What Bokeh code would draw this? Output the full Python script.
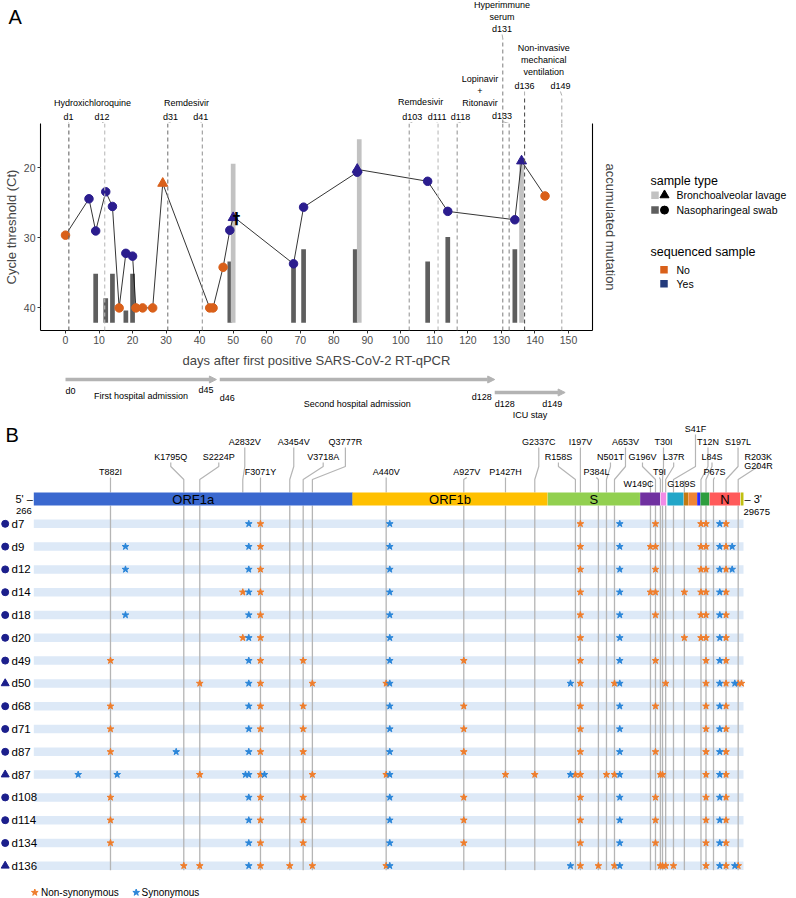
import numpy as np
from bokeh.plotting import figure
from bokeh.models import (Range1d, LinearAxis, Span, Arrow, NormalHead,
                          ColumnDataSource, FixedTicker)
from bokeh.layouts import column, row
from bokeh.embed import file_html
from bokeh.resources import INLINE
from bokeh.core.properties import value

FONT = "Liberation Sans"

# ======================= Panel A data =======================
sample_day = [0, 7, 9, 12, 14, 16, 18, 20, 21, 23, 26, 29, 43, 44, 47, 49, 50,
              68, 71, 87, 87, 108, 114, 134, 136, 143]
sample_ct = [29.6, 24.4, 29.0, 23.4, 25.5, 40.0, 32.2, 32.6, 40.0, 40.0, 40.0, 22.2,
             40.0, 40.0, 34.2, 28.9, 27.1, 33.7, 25.6, 20.6, 20.2, 21.9, 26.2,
             27.4, 19.0, 24.0]
sample_type = ["NP", "NP", "NP", "NP", "NP", "NP", "NP", "NP", "NP", "NP", "NP", "BAL",
               "NP", "NP", "NP", "NP", "BAL", "NP", "NP", "NP", "BAL", "NP", "NP",
               "NP", "BAL", "NP"]
sequenced = ["No", "Yes", "Yes", "Yes", "Yes", "No", "Yes", "Yes", "No", "No", "No", "No",
             "No", "No", "No", "Yes", "Yes", "Yes", "Yes", "Yes", "Yes", "Yes", "Yes",
             "Yes", "Yes", "No"]
dagger_day = [51]
dagger_ct = [27.3]

mut_day = [9, 12, 14, 18, 20, 49, 50, 68, 71, 87, 87, 108, 114, 134, 136]
mut_count = [4, 2, 4, 1, 4, 5, 13, 5, 6, 6, 15, 5, 7, 6, 13]
mut_type = ["NP", "NP", "NP", "NP", "NP", "NP", "BAL", "NP", "NP", "NP", "BAL",
            "NP", "NP", "NP", "BAL"]

event_day = [1, 11.7, 30.5, 40.8, 102.5, 111.1, 116.8, 130.4, 132.3, 136.9, 148.0]
event_label = ["d1", "d12", "d31", "d41", "d103", "d111", "d118", "d131", "d133",
               "d136", "d149"]
treatments = ["Hydroxichloroquine", "Remdesivir", "Remdesivir", "Lopinavir\n+\nRitonavir",
              "Hyperimmune\nserum", "Non-invasive\nmechanical\nventilation"]

x_ticks = list(range(0, 151, 10))
ct_ticks = [20, 30, 40]
acc_ticks = [0, 5, 10, 15]

phase_name = ["First hospital admission", "Second hospital admission", "ICU stay"]
phase_start = [0, 46, 128]
phase_end = [45, 128, 149]

# ======================= Panel B data =======================
genes = ["ORF1a", "ORF1b", "S", "ORF3a", "E", "M", "ORF6", "ORF7a", "ORF7b", "ORF8",
         "N", "ORF10"]
gene_start = [266, 13468, 21563, 25393, 26245, 26523, 27202, 27394, 27756, 27894,
              28274, 29558]
gene_end = [13483, 21555, 25384, 26220, 26472, 27191, 27387, 27759, 27887, 28259,
            29533, 29674]
genome_start = 266
genome_end = 29675

mut_names = ["T882I", "K1795Q", "S2224P", "A2832V", "F3071Y", "A3454V", "V3718A",
             "Q3777R", "A440V", "A927V", "P1427H", "G2337C", "R158S", "I197V",
             "P384L", "N501T", "A653V", "W149C", "G196V", "T9I", "T30I", "L37R",
             "S41F", "G189S", "T12N", "L84S", "P67S", "S197L", "R203K", "G204R"]
mut_pos = [3444, 6481, 7144, 8926, 9659, 10873, 11429, 11810, 14868, 18084, 19812,
           21026, 22710, 22916, 23662, 23997, 24329, 25820, 26028, 26231, 26318,
           26450, 26774, 27225, 27913, 28121, 28432, 28952, 29455, 29592]

samples_b = ["d7", "d9", "d12", "d14", "d18", "d20", "d49", "d50", "d68", "d71", "d87",
             "d87", "d108", "d114", "d134", "d136"]
samples_b_type = ["NP", "NP", "NP", "NP", "NP", "NP", "NP", "BAL", "NP", "NP", "NP",
                  "BAL", "NP", "NP", "NP", "BAL"]
nonsyn_rows = [
    ["F3071Y", "I197V", "G196V", "T12N", "L84S", "S197L"],
    ["F3071Y", "I197V", "W149C", "G196V", "T12N", "L84S", "S197L"],
    ["F3071Y", "I197V", "G196V", "T12N", "L84S", "S197L"],
    ["A2832V", "F3071Y", "I197V", "W149C", "G196V", "G189S", "T12N", "L84S", "S197L"],
    ["F3071Y", "I197V", "G196V", "T12N", "L84S", "S197L"],
    ["A2832V", "F3071Y", "I197V", "G189S", "T12N", "L84S", "S197L"],
    ["T882I", "F3071Y", "V3718A", "A927V", "I197V", "G196V", "L84S", "S197L"],
    ["S2224P", "F3071Y", "Q3777R", "A440V", "I197V", "A653V", "L37R", "L84S", "S197L",
     "R203K", "G204R"],
    ["T882I", "F3071Y", "V3718A", "A927V", "I197V", "G196V", "L84S", "S197L"],
    ["T882I", "F3071Y", "V3718A", "A927V", "I197V", "L84S", "S197L"],
    ["T882I", "F3071Y", "V3718A", "A927V", "I197V", "G196V", "L84S", "S197L"],
    ["S2224P", "F3071Y", "Q3777R", "A440V", "P1427H", "G2337C", "R158S", "I197V",
     "N501T", "A653V", "T9I", "T30I", "L84S", "S197L"],
    ["T882I", "F3071Y", "V3718A", "A927V", "I197V", "G196V", "L84S", "S197L"],
    ["T882I", "F3071Y", "V3718A", "A927V", "I197V", "G196V", "L84S", "S197L"],
    ["T882I", "F3071Y", "V3718A", "A927V", "I197V", "G196V", "L84S", "S197L"],
    ["K1795Q", "S2224P", "F3071Y", "A3454V", "Q3777R", "A440V", "I197V", "P384L",
     "A653V", "T9I", "T30I", "L37R", "S41F", "L84S", "S197L", "R203K"],
]
syn_rows = [
    [9174, 15017, 24548, 28692],
    [4065, 9174, 15017, 24548, 28692, 29206],
    [4065, 9174, 15017, 24548, 28692, 29206],
    [9174, 15017, 24548, 28692],
    [4065, 9174, 15017, 24548, 28692],
    [9174, 15017, 24548, 28692],
    [9174, 15017, 24548, 28692],
    [9174, 15017, 22505, 24548, 28692, 29314],
    [9174, 15017, 24548, 28692],
    [9174, 15017, 24548, 28692],
    [6166, 9174, 15017, 24548, 28692],
    [2105, 3721, 9038, 9174, 9825, 15017, 22505, 24548, 28692],
    [9174, 15017, 24548, 28692],
    [9174, 15017, 24548, 28692],
    [9174, 15017, 24548, 28692],
    [9174, 15017, 22505, 24548, 28692, 29314],
]

# ======================= styles / layout =======================
COL_YES = "#2b1d8e"
COL_NO = "#d9601a"
BAR_COL = {"NP": "#5e5e5e", "BAL": "#c2c2c2"}
MARK = {"NP": "circle", "BAL": "triangle"}
event_color = ["#666666", "#bbbbbb", "#777777", "#999999", "#999999", "#bbbbbb",
               "#999999", "#888888", "#888888", "#555555", "#aaaaaa"]
event_label_x = [0.9, 10.9, 31.3, 40.3, 103.4, 110.8, 117.8, 130.2, 130.2, 136.9, 147.6]
event_label_y = [116, 116, 116, 116, 116, 116, 116, 28, 115, 85, 85]
event_line_top = [123, 123, 123, 123, 123, 123, 123, 38, 123, 95, 95]
treat_x = [8.05, 36.1, 105.9, 123.6, 130.2, 142.6]
treat_y = [102.5, 102.5, 101.5, 90.7, 10, 59.5]
gene_colors = ["#3a68cf", "#ffc000", "#92d050", "#7030a0", "#f28be6", "#22a6c8",
               "#c27a12", "#f08535", "#2b2bff", "#2e9e3e", "#ff5a5a", "#c0c010"]
label_dx = [0, -13, 19, 2, 0, 4, 20, 33, 0, 3, 0, 4, -17, 0, -2, 4, 11, -12, -13, -1,
            1, 8, 22, -3, 7, 6, 1, 12, 20, 17]
label_y = [471, 456, 456, 441, 471, 441, 456, 441, 471, 471, 471, 441, 456, 441, 471,
           456, 441, 483, 456, 471, 441, 456, 428, 483, 441, 456, 471, 441, 456, 465]
no_line = {"A2832V", "G204R"}
STAR_ORANGE = "#ef7d2b"
STAR_BLUE = "#2b86d9"

W = 796
DAY_PX = 503.0 / 150.0          # pixels per day
DAY0_PAGE = 65.0                # page x of day 0
TL_TOP, TL_BOT = 370, 423       # timeline strip (page y)


def page_to_day(px):
    return (px - DAY0_PAGE) / DAY_PX


def blank(w, h, xr, yr, **kw):
    p = figure(width=w, height=h, x_range=xr, y_range=yr, output_backend="svg",
               toolbar_location=None, x_axis_location=None, y_axis_location=None,
               min_border=0, **kw)
    p.outline_line_color = None
    p.border_fill_color = None
    p.background_fill_color = None
    for g in p.grid:
        g.visible = False
    return p


def txt(p, x, y, t, size="9px", align="center", color="#000000", baseline="middle",
        style="normal", x_offset=0):
    p.text(x=x, y=y, text=t, text_font=value(FONT), text_font_size=size,
           text_align=align, text_baseline=baseline, text_color=color,
           text_font_style=style, x_offset=x_offset)


# ======================= top annotations (panel A) =======================
top = blank(W, 123, Range1d(page_to_day(0), page_to_day(W)), Range1d(123, 0))
txt(top, [page_to_day(8)], [16], ["A"], size="20px", align="left")
for d, tp, c, lx, ly in zip(event_day, event_line_top, event_color, event_label_x, event_label_y):
    if tp < 123:
        top.segment(x0=[d], y0=[123], x1=[d], y1=[tp], line_color=c, line_dash="4 3",
                    line_width=1.1)
    top.segment(x0=[d], y0=[min(tp, 123)], x1=[lx], y1=[ly + 6], line_color="#999999",
                line_width=0.8)
txt(top, event_label_x, event_label_y, event_label, size="9px")
txt(top, treat_x, treat_y, treatments, size="9px")

# ======================= main plot A =======================
pa = figure(width=633, height=247, x_range=Range1d(page_to_day(40), page_to_day(592)),
            y_range=Range1d(43.23, 13.64), output_backend="svg", toolbar_location=None,
            min_border_left=40, min_border_right=41, min_border_top=0,
            min_border_bottom=39)
pa.outline_line_color = None
pa.extra_y_ranges = {"acc": Range1d(-0.63, 16.28)}
pa.grid.visible = False
ra = LinearAxis(y_range_name="acc", axis_label="accumulated mutation",
                ticker=FixedTicker(ticks=acc_ticks))
pa.add_layout(ra, "right")
pa.xaxis.ticker = FixedTicker(ticks=x_ticks)
pa.yaxis.ticker = FixedTicker(ticks=ct_ticks)
pa.xaxis.axis_label = "days after first positive SARS-CoV-2 RT-qPCR"
pa.yaxis[0].axis_label = "Cycle threshold (Ct)"
for ax in pa.xaxis + pa.yaxis:
    ax.axis_line_color = "black"
    ax.axis_line_width = 1.1
    ax.major_tick_line_color = "#333333"
    ax.major_tick_out = 3
    ax.major_tick_in = 0
    ax.minor_tick_line_color = None
    ax.major_label_text_font = FONT
    ax.major_label_text_font_size = "10.5px"
    ax.major_label_text_color = "#4d4d4d"
    ax.major_label_standoff = 2
    ax.axis_label_text_font = FONT
    ax.axis_label_text_font_size = "13px"
    ax.axis_label_text_font_style = "normal"
    ax.axis_label_standoff = 2
pa.xaxis.axis_label_standoff = 6
ra.axis_label_standoff = 10
ra.major_label_standoff = 4

for d, c in zip(event_day, event_color):
    pa.add_layout(Span(location=d, dimension="height", line_color=c, line_dash="4 3",
                       line_width=1.1))

# bars (dodged when two sample types share a day)
bar_x = []
for d, t in zip(mut_day, mut_type):
    if mut_day.count(d) > 1:
        bar_x.append(d - 0.6 if t == "NP" else d + 0.6)
    else:
        bar_x.append(d)
bsrc = ColumnDataSource(dict(x=bar_x, top=mut_count,
                             color=[BAR_COL[t] for t in mut_type]))
pa.vbar(x="x", top="top", bottom=0, width=1.4, fill_color="color", line_color=None,
        y_range_name="acc", source=bsrc)

# connecting line
line_pts = sorted(list(zip(sample_day, sample_ct)) + list(zip(dagger_day, dagger_ct)),
                  key=lambda v: v[0])
pa.line([v[0] for v in line_pts], [v[1] for v in line_pts], line_color="black",
        line_width=0.8)

for t, sz in (("NP", 8.5), ("BAL", 10)):
    idx = [i for i, s in enumerate(sample_type) if s == t]
    src = ColumnDataSource(dict(
        x=[sample_day[i] for i in idx], y=[sample_ct[i] for i in idx],
        c=[COL_YES if sequenced[i] == "Yes" else COL_NO for i in idx]))
    pa.scatter("x", "y", source=src, marker=MARK[t], size=sz, fill_color="c",
               line_color="c")
pa.text(x=dagger_day, y=dagger_ct, text=["†"], text_font=value("DejaVu Sans"),
        text_font_size="15px", text_align="center", text_baseline="middle",
        text_font_style="bold")

# ======================= legend A =======================
leg = blank(W - 633, 247, Range1d(633, W), Range1d(331, 123),
            min_border_top=0, min_border_bottom=39)
txt(leg, [650], [181], ["sample type"], size="12.5px", align="left")
st_items = ["Bronchoalveolar lavage", "Nasopharingeal swab"]
st_keys = ["BAL", "NP"]
st_y = [195 + 15 * i for i in range(len(st_items))]
leg.scatter([654.5] * 2, st_y, marker="square", size=7.5,
            fill_color=[BAR_COL[k] for k in st_keys], line_color=None)
for k, yy in zip(st_keys, st_y):
    leg.scatter([664], [yy], marker=MARK[k], size=8 if k == "NP" else 9,
                fill_color="black", line_color="black")
txt(leg, [676] * 2, st_y, st_items, size="10.5px", align="left")
txt(leg, [650], [252], ["sequenced sample"], size="12.5px", align="left")
sq_items = ["No", "Yes"]
sq_y = [270 + 14 * i for i in range(len(sq_items))]
leg.scatter([663.5] * 2, sq_y, marker="square", size=7.5,
            fill_color=[COL_NO, "#243b7c"], line_color=None)
txt(leg, [676] * 2, sq_y, sq_items, size="10.5px", align="left")

# ======================= timeline =======================
tl = blank(W, TL_BOT - TL_TOP, Range1d(page_to_day(0), page_to_day(W)),
           Range1d(TL_BOT, TL_TOP))
arrow_y = [379, 379, 392]
ac = "#b3b3b3"
asrc = ColumnDataSource(dict(x0=phase_start, x1=phase_end, y=arrow_y))
tl.add_layout(Arrow(end=NormalHead(size=7, fill_color=ac, line_color=ac), source=asrc,
                    x_start="x0", y_start="y", x_end="x1", y_end="y", line_color=ac,
                    line_width=3.5))
start_y = [390, 397, 403]
end_y = [389, 396, 403]
name_y = [395, 403, 414]
txt(tl, phase_start, start_y, ["d%d" % s for s in phase_start], size="9px", align="left")
txt(tl, phase_end, end_y, ["d%d" % e for e in phase_end], size="9px", align="right",
    x_offset=-3)
txt(tl, [(s + e) / 2 for s, e in zip(phase_start, phase_end)], name_y, phase_name,
    size="9px")

# ======================= panel B =======================
NT_PX = 0.024132
XB0 = genome_start - 33.3 / NT_PX


def page_to_nt(px):
    return XB0 + px / NT_PX


pb = blank(W, 898 - TL_BOT, Range1d(XB0, XB0 + W / NT_PX), Range1d(898, TL_BOT))
txt(pb, [page_to_nt(5)], [434], ["B"], size="20px", align="left")

BAR_TOP, BAR_BOT = 492, 505
ROW_Y0, ROW_STEP = 523.3, 22.8
row_y = [ROW_Y0 + i * ROW_STEP for i in range(len(samples_b))]
pos_of = dict(zip(mut_names, mut_pos))

# row bands
pb.hbar(y=row_y, left=genome_start, right=genome_end, height=8.5,
        fill_color="#dde9f7", line_color=None)

# vertical mutation lines and label leaders
line_x = [p for n, p in zip(mut_names, mut_pos) if n not in no_line]
pb.segment(x0=line_x, y0=BAR_BOT, x1=line_x, y1=row_y[-1] + 4.5, line_color="#b5b5b5",
           line_width=1.3)
lead_xs, lead_ys = [], []
for n, p, dx, ly in zip(mut_names, mut_pos, label_dx, label_y):
    if n == "G204R":
        continue
    lx = p + dx / NT_PX
    lb = ly + 6
    if lb > 480:
        lead_xs.append([p, p])
        lead_ys.append([480, BAR_TOP])
    else:
        lead_xs.append([lx, lx, p, p])
        lead_ys.append([lb, max(lb, 466), 479, BAR_TOP])
pb.multi_line(lead_xs, lead_ys, line_color="#b5b5b5", line_width=1.2)
txt(pb, mut_pos, label_y, mut_names, size="9px", x_offset=label_dx)

# genome
pb.hbar(y=(BAR_TOP + BAR_BOT) / 2, left=gene_start, right=gene_end,
        height=BAR_BOT - BAR_TOP, fill_color=gene_colors, line_color=None)
big = [i for i in range(len(genes)) if gene_end[i] - gene_start[i] > 1000]
txt(pb, [(gene_start[i] + gene_end[i]) / 2 for i in big], [498.5] * len(big),
    [genes[i] for i in big], size="13px")
txt(pb, [genome_start], [498], ["5' \u2013"], size="11px", align="right", x_offset=-1)
txt(pb, [genome_start], [510], [str(genome_start)], size="9.5px", align="right",
    x_offset=-2)
txt(pb, [genome_end], [498], ["\u2013 3'"], size="11px", align="left", x_offset=1)
txt(pb, [genome_end], [511], [str(genome_end)], size="9.5px", align="left")

# row markers + labels
for t, sz in (("NP", 7), ("BAL", 8)):
    ys = [y for y, s in zip(row_y, samples_b_type) if s == t]
    pb.scatter([page_to_nt(4.7)] * len(ys), ys, marker=MARK[t], size=sz,
               fill_color="#1c1f8c", line_color="#1c1f8c")
txt(pb, [page_to_nt(11)] * len(samples_b), row_y, samples_b, size="11.5px", align="left")

# stars
sx, sy, sc = [], [], []
for y, ns, ss in zip(row_y, nonsyn_rows, syn_rows):
    for n in ns:
        sx.append(pos_of[n]); sy.append(y); sc.append(STAR_ORANGE)
    for p in ss:
        sx.append(p); sy.append(y); sc.append(STAR_BLUE)
pb.scatter(sx, sy, marker="star", size=7, fill_color=sc, line_color=sc)

# bottom legend
leg_y = 892
pb.scatter([page_to_nt(34.3), page_to_nt(135.7)], [leg_y, leg_y], marker="star", size=7,
           fill_color=[STAR_ORANGE, STAR_BLUE], line_color=[STAR_ORANGE, STAR_BLUE])
txt(pb, [page_to_nt(40.5), page_to_nt(141)], [leg_y, leg_y],
    ["Non-synonymous", "Synonymous"], size="10px", align="left")

layout = column(top, row(pa, leg), tl, pb)
open("out.html", "w").write(file_html(layout, INLINE))
